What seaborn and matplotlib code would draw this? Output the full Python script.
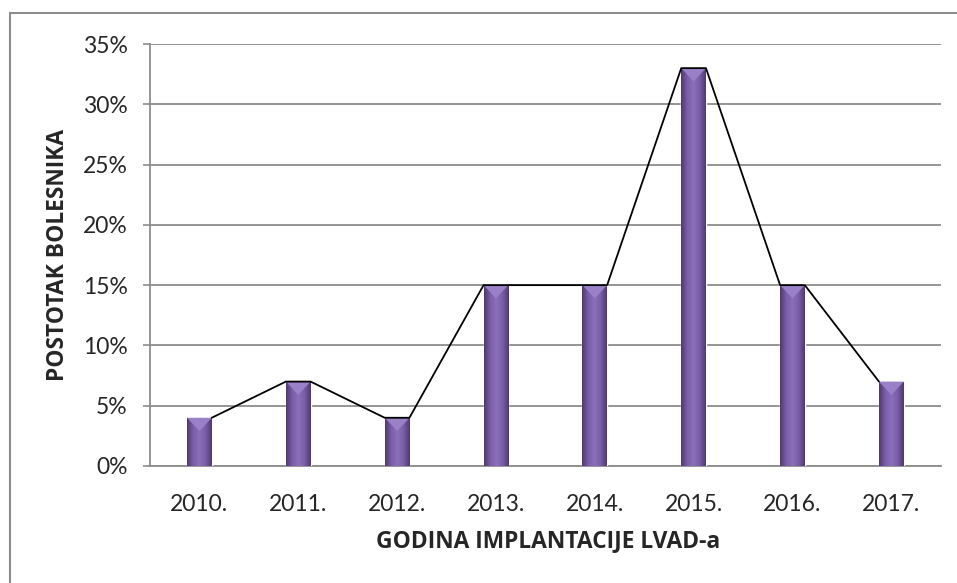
import numpy as np
import pandas as pd
import seaborn as sns
import matplotlib.pyplot as plt
from matplotlib.colors import LinearSegmentedColormap

# data
godine = ['2010.', '2011.', '2012.', '2013.', '2014.', '2015.', '2016.', '2017.']
postotak = [0.04, 0.07, 0.04, 0.15, 0.15, 0.33, 0.15, 0.07]
y_ticks = [0, 0.05, 0.10, 0.15, 0.20, 0.25, 0.30, 0.35]

df = pd.DataFrame({'godina': godine, 'postotak': postotak})

sns.set_style('white')
plt.rcParams['font.family'] = ['Lato', 'DejaVu Sans']

fig = plt.figure(figsize=(9.57, 5.83), dpi=100)
ax = fig.add_axes([0.1567, 0.2007, 0.8263, 0.7238])

ax = sns.barplot(data=df, x='godina', y='postotak', color='#7a5fa8', width=0.25, ax=ax, zorder=3)
bars = list(ax.patches)

# purple gradient in each bar, darker on the edges
cmap = LinearSegmentedColormap.from_list('ljub', ['#4f3a70', '#7a5ea8', '#8b6fb8', '#7a5ea8', '#4f3a70'])
grad = np.linspace(0, 1, 64).reshape(1, -1)
for p in bars:
    x0, y0, w, h = p.get_x(), p.get_y(), p.get_width(), p.get_height()
    im = ax.imshow(grad, cmap=cmap, extent=[x0, x0 + w, y0, y0 + h], aspect='auto', zorder=4)
    im.set_clip_path(p)
    # lighter bevel at the top
    ax.fill([x0, x0 + w, x0 + w * 0.5], [y0 + h, y0 + h, y0 + h - 0.011], color='#9a80c6', zorder=5, lw=0)

# line from top-right of each bar to top-left of the next one
pts_x, pts_y = [], []
for p in bars:
    pts_x += [p.get_x(), p.get_x() + p.get_width()]
    pts_y += [p.get_height(), p.get_height()]
ax.plot(pts_x[1:-1], pts_y[1:-1], color='black', lw=1.3, zorder=6)

ax.set_ylim(0, 0.35)
ax.set_xlim(-0.5, len(godine) - 0.5)
ax.set_yticks(y_ticks)
ax.set_yticklabels([f'{int(round(t * 100))}%' for t in y_ticks], fontsize=16.5)
ax.tick_params(axis='x', labelsize=16.5, length=0, pad=20)
ax.tick_params(axis='y', length=5, width=1.2, color='#8c8c8c', direction='out', pad=11, left=True)
ax.yaxis.grid(True, color='#8c8c8c', lw=1.3, zorder=0)
ax.set_axisbelow(True)

for s in ['top', 'right']:
    ax.spines[s].set_visible(False)
for s in ['left', 'bottom']:
    ax.spines[s].set_color('#8c8c8c')
    ax.spines[s].set_linewidth(1.3)

ax.set_xlabel('GODINA IMPLANTACIJE LVAD-a', fontsize=16.4, fontweight='bold', family='Open Sans')
ax.set_ylabel('POSTOTAK BOLESNIKA', fontsize=16.4, fontweight='bold', family='Open Sans', labelpad=9)
ax.xaxis.set_label_coords(0.503, -0.15)

# outer chart border (left and top visible)
fig.add_artist(plt.Line2D([0.0105, 0.0105], [0, 0.977], transform=fig.transFigure, color='#8c8c8c', lw=1.5))
fig.add_artist(plt.Line2D([0.0105, 1.0], [0.977, 0.977], transform=fig.transFigure, color='#8c8c8c', lw=1.5))

fig.savefig('out.png', dpi=100)
